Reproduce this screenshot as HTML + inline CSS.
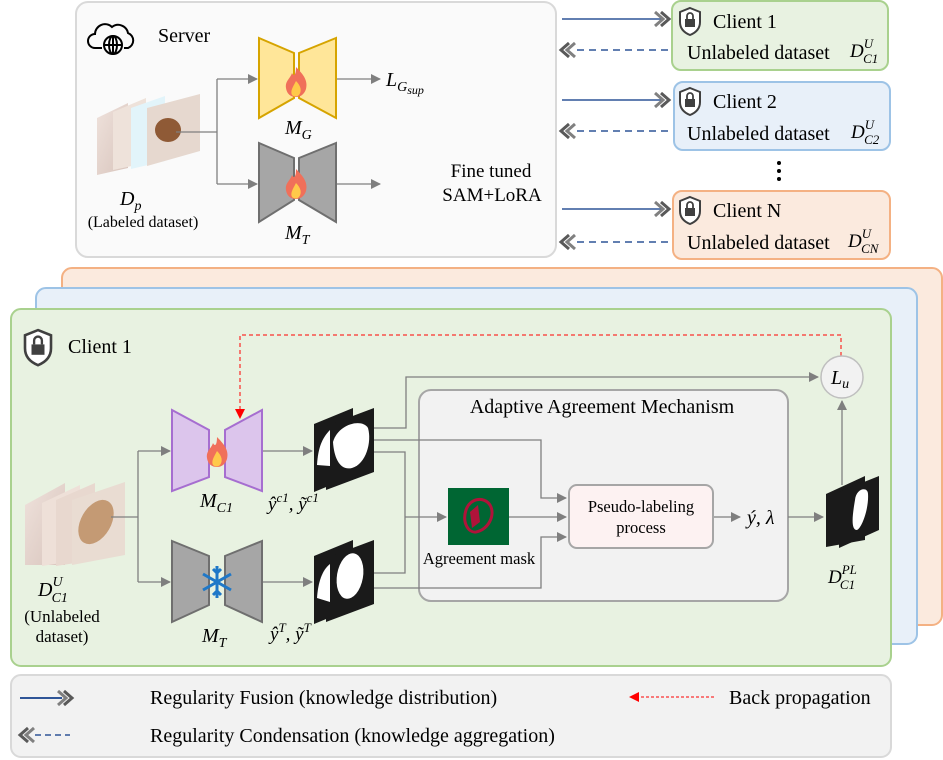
<!DOCTYPE html>
<html><head><meta charset="utf-8"><style>
body{margin:0;background:#fff}
svg{display:block;font-family:"Liberation Serif",serif}
</style></head><body>
<svg width="943" height="760" viewBox="0 0 943 760" xmlns="http://www.w3.org/2000/svg">
<defs>
<marker id="ga" markerWidth="10" markerHeight="10" refX="9" refY="5" orient="auto" markerUnits="userSpaceOnUse"><path d="M0,0 L10,5 L0,10 z" fill="#7f7f7f"/></marker>
<marker id="ra" markerWidth="10" markerHeight="10" refX="9" refY="5" orient="auto" markerUnits="userSpaceOnUse"><path d="M0,0 L10,5 L0,10 z" fill="#f00"/></marker>
<linearGradient id="skin" x1="0" y1="0" x2="1" y2="1"><stop offset="0" stop-color="#efe2dc"/><stop offset="1" stop-color="#d8c4bc"/></linearGradient>
<g id="chevR"><path d="M-12,-7 L-4,0 L-12,7" fill="none" stroke="#808080" stroke-width="3"/><path d="M-6,-7 L2,0 L-6,7" fill="none" stroke="#595959" stroke-width="3"/></g>
<g id="chevL"><path d="M12,-7 L4,0 L12,7" fill="none" stroke="#808080" stroke-width="3"/><path d="M6,-7 L-2,0 L6,7" fill="none" stroke="#595959" stroke-width="3"/></g>
<g id="lock"><path d="M0,-13 L10,-9 L10,1 Q10,10 0,14 Q-10,10 -10,1 L-10,-9 Z" fill="#fff" stroke="#404040" stroke-width="2"/><rect x="-5" y="-2" width="10" height="8" fill="#404040"/><path d="M-3,-2 V-5 A3,3 0 0 1 3,-5 V-2" fill="none" stroke="#404040" stroke-width="1.8"/></g>
<g id="flame"><path d="M0,-16 C8,-8 12,-2 10,6 C8,12 4,14 0,14 C-4,14 -9,12 -10,5 C-11,-2 -6,-4 -4,-10 C-2,-6 0,-8 0,-16Z" fill="#f0705a"/><path d="M0,-2 C5,3 6,8 3,12 C1,14 -2,14 -4,12 C-6,8 -3,4 0,-2Z" fill="#ffc94a"/></g>
</defs>

<!-- Server -->
<rect x="76" y="2" width="480" height="255" rx="12" fill="#fafafa" stroke="#d9d9d9" stroke-width="2"/>
<g fill="none" stroke="#000" stroke-width="2">
<path d="M102,48 H95 A7,7 0 0 1 95,34 A10,10 0 0 1 112,27 A10,10 0 0 1 128,33 A8,8 0 0 1 128,48 H124"/>
<circle cx="113" cy="45" r="9" fill="#fff"/><ellipse cx="113" cy="45" rx="4" ry="9"/><line x1="104" y1="45" x2="122" y2="45"/><line x1="113" y1="36" x2="113" y2="54"/>
</g>
<text x="158" y="42" font-size="20">Server</text>
<g>
<path d="M97,118 L128,103 V168 L97,175Z" fill="url(#skin)"/>
<path d="M113,112 L146,98 V163 L113,170Z" fill="#eee2da"/>
<path d="M131,108 L165,96 V161 L131,169Z" fill="#e2f4fa"/>
<path d="M147,108 L200,94 V151 L147,166Z" fill="#e6d8cf"/>
<ellipse cx="168" cy="130" rx="13" ry="12" fill="#8f5a36"/>
</g>
<text x="120" y="205" font-size="20" font-style="italic">D<tspan font-size="14" dy="5">p</tspan></text>
<text x="143" y="227" font-size="16" text-anchor="middle">(Labeled dataset)</text>
<g stroke="#7f7f7f" stroke-width="1.3" fill="none">
<path d="M176,132 H217"/><path d="M217,79 V184"/>
<path d="M217,79 H257" marker-end="url(#ga)"/><path d="M217,184 H257" marker-end="url(#ga)"/>
<path d="M337,79 H380" marker-end="url(#ga)"/><path d="M337,184 H380" marker-end="url(#ga)"/>
</g>
<g fill="#ffe699" stroke="#d6a400" stroke-width="2">
<path d="M259,38 L294,53 V98 L259,118Z"/><path d="M336,38 L299,53 V98 L336,118Z"/>
</g>
<use href="#flame" x="296" y="83"/>
<text x="285" y="134" font-size="20" font-style="italic">M<tspan font-size="14" dy="5">G</tspan></text>
<g fill="#a6a6a6" stroke="#6f6f6f" stroke-width="2">
<path d="M259,143 L294,158 V200 L259,222Z"/><path d="M336,143 L299,158 V200 L336,222Z"/>
</g>
<use href="#flame" x="296" y="185"/>
<text x="285" y="239" font-size="20" font-style="italic">M<tspan font-size="14" dy="5">T</tspan></text>
<text x="386" y="86" font-size="20" font-style="italic">L<tspan font-size="14" dy="5">G</tspan><tspan font-size="12" dy="3">sup</tspan></text>
<text x="491" y="177" font-size="19" text-anchor="middle">Fine tuned</text>
<text x="492" y="201" font-size="19" text-anchor="middle">SAM+LoRA</text>

<g stroke="#2f5597" stroke-width="1.6" fill="none">
<path d="M562,19 H664"/><path d="M562,100 H664"/><path d="M562,209 H664"/>
<path d="M668,50 H575" stroke-dasharray="7,5"/><path d="M668,131 H575" stroke-dasharray="7,5"/><path d="M668,242 H575" stroke-dasharray="7,5"/>
</g>
<use href="#chevR" x="667" y="19"/><use href="#chevR" x="667" y="100"/><use href="#chevR" x="667" y="209"/>
<use href="#chevL" x="563" y="50"/><use href="#chevL" x="563" y="131"/><use href="#chevL" x="563" y="242"/>

<rect x="672" y="1" width="216" height="69" rx="9" fill="#e8f2e1" stroke="#a9d18e" stroke-width="2"/>
<rect x="674" y="82" width="216" height="68" rx="9" fill="#e8f0f9" stroke="#9dc3e6" stroke-width="2"/>
<rect x="673" y="191" width="217" height="68" rx="9" fill="#fbeade" stroke="#f4b183" stroke-width="2"/>
<use href="#lock" x="690" y="21"/><use href="#lock" x="690" y="101"/><use href="#lock" x="690" y="210"/>
<g font-size="20">
<text x="713" y="28">Client 1</text><text x="713" y="108">Client 2</text><text x="713" y="217">Client N</text>
<text x="687" y="59">Unlabeled dataset</text><text x="687" y="140">Unlabeled dataset</text><text x="687" y="249">Unlabeled dataset</text>
</g>
<g font-size="19" font-style="italic">
<text x="850" y="57">D<tspan font-size="13" dy="-9">U</tspan><tspan font-size="13" dx="-10" dy="15">C1</tspan></text>
<text x="851" y="138">D<tspan font-size="13" dy="-9">U</tspan><tspan font-size="13" dx="-10" dy="15">C2</tspan></text>
<text x="848" y="247">D<tspan font-size="13" dy="-9">U</tspan><tspan font-size="13" dx="-10" dy="15">CN</tspan></text>
</g>
<circle cx="779" cy="163" r="2" fill="#000"/><circle cx="779" cy="171" r="2" fill="#000"/><circle cx="779" cy="179" r="2" fill="#000"/>

<rect x="62" y="268" width="880" height="357" rx="10" fill="#fbeade" stroke="#f4b183" stroke-width="2"/>
<rect x="36" y="288" width="881" height="356" rx="10" fill="#e8f0f9" stroke="#9dc3e6" stroke-width="2"/>
<rect x="11" y="309" width="880" height="357" rx="10" fill="#e8f2e1" stroke="#a9d18e" stroke-width="2"/>
<g transform="translate(38,347) scale(1.3)"><use href="#lock"/></g>
<text x="68" y="353" font-size="20">Client 1</text>

<path d="M841,356 V335 H240 V418" fill="none" stroke="#f00" stroke-width="1" stroke-dasharray="4,3" marker-end="url(#ra)"/>

<path d="M25,505 L65,483 V565 L25,565Z" fill="url(#skin)"/>
<path d="M42,503 L80,485 V560 L42,566Z" fill="#eee0d8"/>
<path d="M56,500 L95,483 V560 L56,566Z" fill="#e8d8cf"/>
<path d="M72,500 L125,482 V555 L72,565Z" fill="#e9dcd2"/>
<ellipse cx="96" cy="522" rx="15" ry="24" fill="#c49a74" transform="rotate(30 96 522)"/>
<text x="38" y="596" font-size="20" font-style="italic">D<tspan font-size="14" dy="-10">U</tspan><tspan font-size="14" dx="-11" dy="16">C1</tspan></text>
<text x="62" y="622" font-size="17" text-anchor="middle">(Unlabeled</text>
<text x="62" y="642" font-size="17" text-anchor="middle">dataset)</text>

<g stroke="#7f7f7f" stroke-width="1.3" fill="none">
<path d="M111,517 H138"/><path d="M138,451 V582"/>
<path d="M138,451 H170" marker-end="url(#ga)"/><path d="M138,582 H170" marker-end="url(#ga)"/>
<path d="M262,451 H312" marker-end="url(#ga)"/><path d="M262,582 H312" marker-end="url(#ga)"/>
<path d="M374,428 H406 V377 H818" marker-end="url(#ga)"/>
</g>
<g fill="#dcc5ec" stroke="#a66ed0" stroke-width="2">
<path d="M172,410 L209,430 V477 L172,491Z"/><path d="M262,410 L225,430 V477 L262,491Z"/>
</g>
<use href="#flame" x="217" y="453"/>
<text x="200" y="507" font-size="20" font-style="italic">M<tspan font-size="14" dy="5">C1</tspan></text>
<g fill="#a6a6a6" stroke="#6f6f6f" stroke-width="2">
<path d="M172,541 L209,556 V605 L172,622Z"/><path d="M262,541 L225,556 V605 L262,622Z"/>
</g>
<g stroke="#1f78c8" stroke-width="3" fill="none" transform="translate(217,582)">
<line x1="0" y1="-16" x2="0" y2="16"/><line x1="-14" y1="-8" x2="14" y2="8"/><line x1="-14" y1="8" x2="14" y2="-8"/>
<path d="M-4,-13 L0,-9 L4,-13 M-4,13 L0,9 L4,13"/>
</g>
<text x="202" y="642" font-size="20" font-style="italic">M<tspan font-size="14" dy="5">T</tspan></text>

<g>
<path d="M314,424 L353,408 V476 L314,492Z" fill="#1a1a1a"/>
<path d="M326,426 L374,408 V472 L326,490Z" fill="#1a1a1a"/>
<path d="M317,465 C318,448 322,438 330,430 L330,466Z" fill="#fff"/>
<path d="M333,442 C338,424 362,418 368,428 C372,442 366,464 352,468 C340,471 334,458 333,442Z" fill="#fff"/>
<path d="M314,556 L353,540 V608 L314,624Z" fill="#1a1a1a"/>
<path d="M326,558 L374,540 V604 L326,622Z" fill="#1a1a1a"/>
<path d="M317,598 C318,583 322,570 330,564 L330,602Z" fill="#fff"/>
<ellipse cx="350" cy="576" rx="13" ry="23" fill="#fff" transform="rotate(10 350 576)"/>
</g>
<text x="268" y="510" font-size="19" font-style="italic">ŷ<tspan font-size="13" dy="-8">c1</tspan><tspan dy="8">, ỹ</tspan><tspan font-size="13" dy="-8">c1</tspan></text>
<text x="270" y="640" font-size="19" font-style="italic">ŷ<tspan font-size="13" dy="-8">T</tspan><tspan dy="8">, ỹ</tspan><tspan font-size="13" dy="-8">T</tspan></text>

<rect x="419" y="390" width="369" height="211" rx="12" fill="#f2f2f2" stroke="#a6a6a6" stroke-width="2"/>
<text x="602" y="413" font-size="20" text-anchor="middle">Adaptive Agreement  Mechanism</text>
<g stroke="#7f7f7f" stroke-width="1.3" fill="none">
<path d="M374,440 H541 V498 H566" marker-end="url(#ga)"/>
<path d="M374,452 H405 V573 H374"/>
<path d="M405,517 H446" marker-end="url(#ga)"/>
<path d="M508,517 H566" marker-end="url(#ga)"/>
<path d="M374,588 H541 V537 H566" marker-end="url(#ga)"/>
<path d="M713,517 H740" marker-end="url(#ga)"/>
<path d="M788,517 H823" marker-end="url(#ga)"/>
<path d="M842,485 V401" marker-end="url(#ga)"/>
</g>
<rect x="448" y="488" width="61" height="57" fill="#006633"/>
<path d="M466,510 C470,498 484,496 490,505 C496,515 488,530 476,532 C468,533 462,522 466,510Z" fill="none" stroke="#b0133a" stroke-width="3"/>
<path d="M470,512 L478,505 L480,522 L472,528Z" fill="#b0133a"/>
<text x="479" y="564" font-size="16.5" text-anchor="middle">Agreement mask</text>
<rect x="569" y="485" width="144" height="63" rx="8" fill="#fdf2f2" stroke="#a6a6a6" stroke-width="2"/>
<text x="641" y="512" font-size="16.5" text-anchor="middle">Pseudo-labeling</text>
<text x="641" y="533" font-size="16.5" text-anchor="middle">process</text>
<text x="747" y="524" font-size="20" font-style="italic">ý, λ</text>
<path d="M826,494 L865,476 V540 L826,547Z" fill="#1a1a1a"/>
<path d="M839,492 L879,476 V530 L839,548Z" fill="#1a1a1a"/>
<path d="M855,500 C856,488 868,486 868,494 C869,508 862,528 857,530 C850,530 853,512 855,500Z" fill="#fff"/>
<text x="828" y="583" font-size="19" font-style="italic">D<tspan font-size="13" dy="-9">PL</tspan><tspan font-size="13" dx="-17" dy="15">C1</tspan></text>
<circle cx="842" cy="377" r="21" fill="#f2f2f2" stroke="#bfbfbf" stroke-width="1.5"/>
<text x="831" y="384" font-size="20" font-style="italic">L<tspan font-size="14" dy="4">u</tspan></text>

<rect x="11" y="675" width="880" height="82" rx="10" fill="#f2f2f2" stroke="#d9d9d9" stroke-width="2"/>
<path d="M20,698 H62" stroke="#2f5597" stroke-width="2"/>
<use href="#chevR" x="70" y="698"/>
<text x="150" y="704" font-size="20">Regularity Fusion (knowledge distribution)</text>
<use href="#chevL" x="22" y="735"/>
<path d="M35,735 H70" stroke="#2f5597" stroke-width="1.6" stroke-dasharray="6,4"/>
<text x="150" y="742" font-size="20">Regularity Condensation (knowledge aggregation)</text>
<path d="M714,697 H630" stroke="#f00" stroke-width="1" stroke-dasharray="3,2" marker-end="url(#ra)"/>
<text x="729" y="704" font-size="20">Back propagation</text>
</svg>
</body></html>
